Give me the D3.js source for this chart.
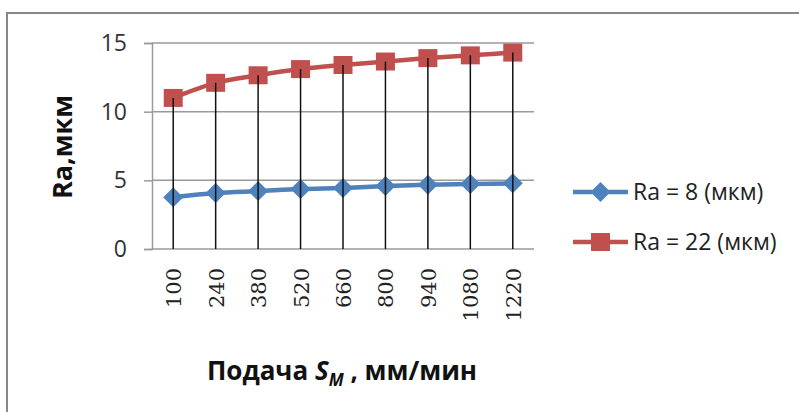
<!DOCTYPE html>
<html>
<head>
<meta charset="utf-8">
<script src="https://cdn.jsdelivr.net/npm/d3@7"></script>
<style>
  html, body { margin: 0; padding: 0; background: #fff; }
  svg { display: block; }
</style>
</head>
<body>
<svg id="chart" width="799" height="412"></svg>
<script>
// Feed rate categories, mm/min
const categories = ["100", "240", "380", "520", "660", "800", "940", "1080", "1220"];
// Surface roughness for the two series
const seriesRa8 = [3.77, 4.08, 4.22, 4.37, 4.45, 4.58, 4.68, 4.73, 4.78];
const seriesRa22 = [11.0, 12.1, 12.65, 13.1, 13.4, 13.65, 13.9, 14.1, 14.3];
const yTicks = [0, 5, 10, 15];
const seriesNames = ["Ra = 8 (мкм)", "Ra = 22 (мкм)"];

const svg = d3.select("#chart");
const plot = { left: 152, right: 534, top: 43, bottom: 249 };

// outer frame (only top and left edges fall inside the view)
svg.append("rect")
  .attr("x", 7).attr("y", 13)
  .attr("width", 820).attr("height", 430)
  .attr("fill", "none").attr("stroke", "#878787").attr("stroke-width", 2);

const x = d3.scaleBand().domain(categories).range([plot.left, plot.right]);
const y = d3.scaleLinear().domain([0, 15]).range([plot.bottom, plot.top]);
const cx = c => x(c) + x.bandwidth() / 2;

// horizontal gridlines with tick stubs and labels
const yAxis = d3.axisLeft(y).tickValues(yTicks).tickSize(8).tickPadding(17);
const gy = svg.append("g").attr("transform", `translate(${plot.left},0)`).call(yAxis);
gy.select(".domain").attr("stroke", "#9a9a9a").attr("stroke-width", 1.5);
gy.selectAll(".tick line").attr("stroke", "#9a9a9a").attr("stroke-width", 1.5);
gy.selectAll(".tick text")
  .attr("font-family", "'Open Sans', sans-serif").attr("font-size", 23)
  .attr("fill", "#333");
svg.append("g").selectAll("line").data(yTicks).join("line")
  .attr("x1", plot.left).attr("x2", plot.right)
  .attr("y1", d => y(d)).attr("y2", d => y(d))
  .attr("stroke", "#9a9a9a").attr("stroke-width", 1.5);

// category labels, rotated
const xAxis = d3.axisBottom(x).tickSize(0).tickPadding(0);
const gx = svg.append("g").attr("transform", `translate(0,${plot.bottom})`).call(xAxis);
gx.select(".domain").remove();
gx.selectAll(".tick text")
  .attr("font-family", "'DejaVu Serif', serif").attr("font-size", 21)
  .attr("fill", "#222")
  .attr("text-anchor", "end")
  .attr("transform", "translate(8,19) rotate(-90)")
  .attr("dy", 0);

const line = d3.line().x((d, i) => cx(categories[i])).y(d => y(d)).curve(d3.curveMonotoneX);
const blue = "#4F81BD", red = "#C0504D";
const diamond = "M0,-10L10,0L0,10L-10,0Z";
const square = "M-9.5,-9L9.5,-9L9.5,9L-9.5,9Z";

function drawSeries(values, color, shape) {
  svg.append("path").datum(values)
    .attr("d", line).attr("fill", "none")
    .attr("stroke", color).attr("stroke-width", 4.5).attr("stroke-linejoin", "round");
  svg.append("g").selectAll("path").data(values).join("path")
    .attr("d", shape).attr("fill", color)
    .attr("transform", (d, i) => `translate(${cx(categories[i])},${y(d)})`);
}
drawSeries(seriesRa8, blue, diamond);
drawSeries(seriesRa22, red, square);

// drop lines from the highest series down to the axis, drawn over the markers
svg.append("g").selectAll("line").data(categories).join("line")
  .attr("x1", d => cx(d)).attr("x2", d => cx(d))
  .attr("y1", (d, i) => y(seriesRa22[i])).attr("y2", y(0))
  .attr("stroke", "#111").attr("stroke-width", 1.5);

// axis titles
svg.append("text")
  .attr("transform", "translate(72,147) rotate(-90)")
  .attr("text-anchor", "middle")
  .attr("font-family", "'Open Sans', sans-serif").attr("font-weight", "bold")
  .attr("font-size", 27).attr("fill", "#111")
  .text("Ra,мкм");

const xt = svg.append("text")
  .attr("x", 342).attr("y", 380)
  .attr("text-anchor", "middle")
  .attr("font-family", "'Open Sans', sans-serif").attr("font-weight", "bold")
  .attr("font-size", 26).attr("fill", "#111");
xt.append("tspan").text("Подача ");
xt.append("tspan").attr("font-style", "italic").text("S");
xt.append("tspan").attr("font-style", "italic").attr("font-size", 17).attr("dy", 6).text("M");
xt.append("tspan").attr("dy", -6).text(" , мм/мин");

// legend
const legend = svg.append("g");
[[blue, diamond], [red, square]].forEach(([color, shape], i) => {
  const ly = 192 + i * 50;
  legend.append("line").attr("x1", 573).attr("x2", 628).attr("y1", ly).attr("y2", ly)
    .attr("stroke", color).attr("stroke-width", 4.5);
  legend.append("path").attr("d", shape).attr("fill", color)
    .attr("transform", `translate(600.5,${ly})`);
  legend.append("text").attr("x", 633).attr("y", ly + 8)
    .attr("font-family", "'Open Sans', sans-serif").attr("font-size", 23)
    .attr("fill", "#222").text(seriesNames[i]);
});
</script>
</body>
</html>
